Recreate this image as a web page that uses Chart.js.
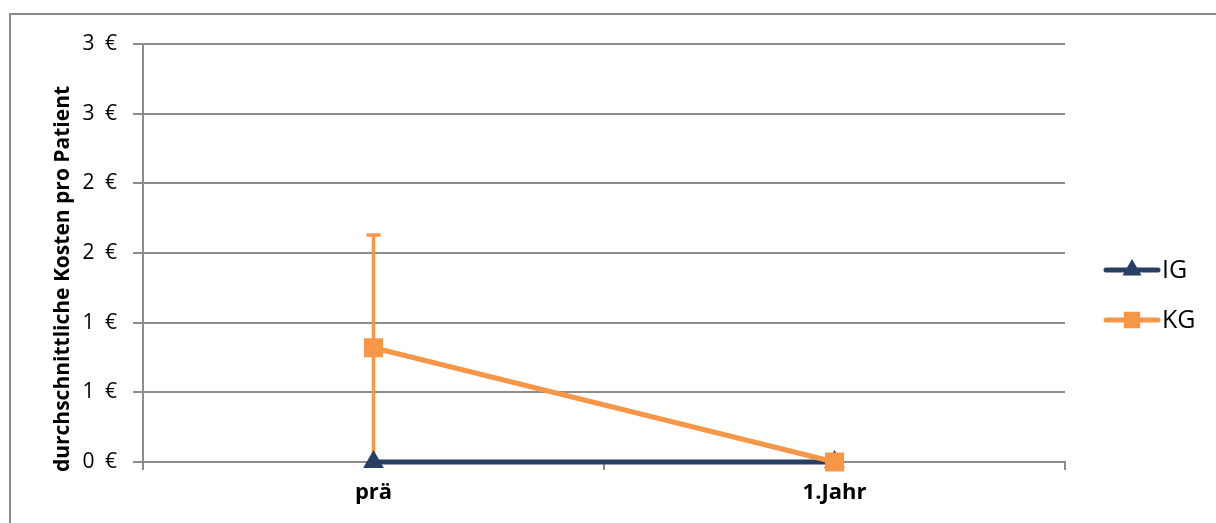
<!DOCTYPE html>
<html lang="de">
<head>
    <meta charset="UTF-8">
    <title>Durchschnittliche Kosten pro Patient</title>
    <script src="https://cdn.jsdelivr.net/npm/chart.js@4.4.0/dist/chart.umd.min.js"></script>
    <style>
        body { margin: 0; background: #fff; }
        #wrap { width: 1216px; height: 523px; }
    </style>
</head>
<body>
    <div id="wrap">
        <canvas id="myChart" width="1216" height="523"></canvas>
    </div>
    <script>
        // data
        const categories = ['prä', '1.Jahr'];
        const igValues = [0, 0];
        const kgValues = [0.82, 0];
        const igErrors = [0, 0];
        const kgErrors = [0.81, 0];
        const seriesNames = ['IG', 'KG'];
        const yTitle = 'durchschnittliche Kosten pro Patient';

        const navy = '#263f63';
        const orange = '#f79646';
        const gridGray = '#8c8c8c';
        const font = '"Open Sans", Lato, sans-serif';

        // outer frame of the original chart (only top and left edges are visible)
        const frame = {
            id: 'frame',
            beforeDraw(chart) {
                const ctx = chart.ctx;
                ctx.save();
                ctx.fillStyle = '#fff';
                ctx.fillRect(0, 0, chart.width, chart.height);
                ctx.strokeStyle = '#8a8a8a';
                ctx.lineWidth = 2;
                ctx.beginPath();
                ctx.moveTo(10, chart.height);
                ctx.lineTo(10, 14);
                ctx.lineTo(chart.width, 14);
                ctx.stroke();
                ctx.restore();
            }
        };

        // vertical error bars, drawn under the lines
        const errorBars = {
            id: 'errorBars',
            beforeDatasetsDraw(chart) {
                const ctx = chart.ctx;
                const x = chart.scales.x, y = chart.scales.y;
                chart.data.datasets.forEach(ds => {
                    const errs = ds.errors || [];
                    ds.data.forEach((v, i) => {
                        const e = errs[i];
                        if (!e) return;
                        const px = x.getPixelForValue(i);
                        const top = y.getPixelForValue(v + e);
                        const bot = y.getPixelForValue(Math.max(0, v - e));
                        ctx.save();
                        ctx.strokeStyle = ds.borderColor;
                        ctx.lineWidth = 3.5;
                        ctx.beginPath();
                        ctx.moveTo(px, top);
                        ctx.lineTo(px, bot);
                        ctx.moveTo(px - 7, top);
                        ctx.lineTo(px + 7, top);
                        ctx.stroke();
                        ctx.restore();
                    });
                });
            }
        };

        // y title sits a bit lower than the plot centre in the original
        const axisTitle = {
            id: 'axisTitle',
            afterDraw(chart) {
                const ctx = chart.ctx;
                ctx.save();
                ctx.translate(63, 279);
                ctx.rotate(-Math.PI / 2);
                ctx.fillStyle = '#000';
                ctx.font = 'bold 21px ' + font;
                ctx.textAlign = 'center';
                ctx.textBaseline = 'middle';
                ctx.fillText(yTitle, 0, 0);
                ctx.restore();
            }
        };

        // Excel style legend: short line with the marker in the middle
        const sideLegend = {
            id: 'sideLegend',
            afterDraw(chart) {
                const ctx = chart.ctx;
                const rows = [270, 320];
                chart.data.datasets.forEach((ds, i) => {
                    const yy = rows[i];
                    ctx.save();
                    ctx.strokeStyle = ds.borderColor;
                    ctx.lineWidth = 5;
                    ctx.lineCap = 'round';
                    ctx.beginPath();
                    ctx.moveTo(1106, yy);
                    ctx.lineTo(1158, yy);
                    ctx.stroke();
                    Chart.helpers.drawPoint(ctx, {
                        pointStyle: ds.pointStyle,
                        radius: ds.pointStyle === 'rect' ? 8 : 6,
                        rotation: 0,
                        borderWidth: 1
                    }, 1132, yy);
                    ctx.fillStyle = ds.borderColor;
                    ctx.fill();
                    ctx.fillStyle = '#000';
                    ctx.font = '25px ' + font;
                    ctx.textBaseline = 'middle';
                    ctx.fillText(ds.label, 1162, yy + 1);
                    ctx.restore();
                });
            }
        };

        const ctx = document.getElementById('myChart').getContext('2d');
        const myChart = new Chart(ctx, {
            type: 'line',
            data: {
                labels: categories,
                datasets: [{
                    label: seriesNames[0],
                    data: igValues,
                    errors: igErrors,
                    borderColor: navy,
                    backgroundColor: navy,
                    borderWidth: 5,
                    pointStyle: 'triangle',
                    pointRadius: 7,
                    pointHoverRadius: 7,
                    clip: false,
                    order: 1
                }, {
                    label: seriesNames[1],
                    data: kgValues,
                    errors: kgErrors,
                    borderColor: orange,
                    backgroundColor: orange,
                    borderWidth: 5,
                    pointStyle: 'rect',
                    pointRadius: 10,
                    pointHoverRadius: 10,
                    clip: false,
                    order: 0
                }]
            },
            options: {
                responsive: false,
                animation: false,
                layout: { padding: { top: 44, right: 151, left: 0, bottom: 0 } },
                plugins: {
                    legend: { display: false },
                    tooltip: { enabled: false }
                },
                scales: {
                    x: {
                        offset: true,
                        grid: {
                            offset: true,
                            drawOnChartArea: false,
                            color: gridGray,
                            lineWidth: 2,
                            tickLength: 8
                        },
                        border: { color: gridGray, width: 2 },
                        ticks: {
                            color: '#000',
                            padding: 10,
                            maxRotation: 0,
                            font: { family: font, size: 22, weight: 'bold' }
                        },
                        afterFit(scale) { scale.height = 61; }
                    },
                    y: {
                        min: 0,
                        max: 3,
                        ticks: {
                            stepSize: 0.5,
                            color: '#000',
                            padding: 16,
                            font: { family: font, size: 21 },
                            callback: v => Math.round(v) + '\u2002€'
                        },
                        grid: {
                            color: gridGray,
                            lineWidth: 2,
                            tickLength: 10
                        },
                        border: { color: gridGray, width: 2 },
                        afterFit(scale) { scale.width = 143; }
                    }
                }
            },
            plugins: [frame, errorBars, axisTitle, sideLegend]
        });
    </script>
</body>
</html>
